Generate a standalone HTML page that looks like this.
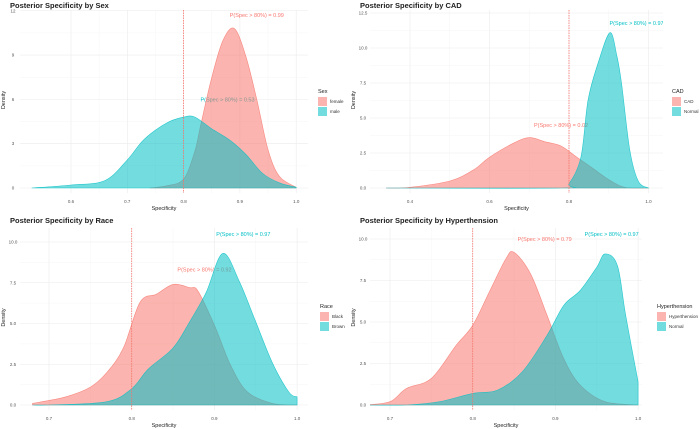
<!DOCTYPE html>
<html><head><meta charset="utf-8"><style>
html,body{margin:0;padding:0;background:#fff;}
svg{display:block;font-family:"Liberation Sans",sans-serif;}
</style></head><body>
<svg id="chart" width="700" height="429" viewBox="0 0 700 429"></svg>
<script>
// ---- Data ----
const sexFemaleX=[0.74,0.77,0.80,0.82,0.83,0.85,0.87,0.89,0.91,0.93,0.95,0.97,1.0];
const sexFemaleY=[0,0.15,0.6,2.5,4.2,7.5,10.0,10.8,9.0,6.0,2.6,0.8,0.05];
const sexMaleX=[0.53,0.60,0.66,0.70,0.73,0.77,0.80,0.82,0.85,0.88,0.91,0.94,0.97,1.0];
const sexMaleY=[0,0.2,0.5,1.9,3.3,4.4,4.8,4.8,4.0,3.3,2.3,1.0,0.35,0.05];
const cadCadX=[0.34,0.40,0.50,0.56,0.60,0.66,0.70,0.74,0.78,0.82,0.86,0.90,0.94,1.0];
const cadCadY=[0,0.05,0.5,1.3,2.2,3.2,3.6,3.3,3.0,2.2,1.4,0.6,0.05,0];
const cadNormalX=[0.34,0.78,0.80,0.83,0.848,0.874,0.903,0.92,0.932,0.953,0.974,1.0];
const cadNormalY=[0,0,0.3,2.2,6.3,9.0,11.1,9.5,7.5,2.7,0.5,0];
const raceBlackX=[0.68,0.72,0.75,0.77,0.79,0.81,0.83,0.85,0.87,0.88,0.90,0.92,0.94,0.97,1.0];
const raceBlackY=[0.1,0.5,1.1,2.0,3.5,6.3,6.8,7.4,7.2,7.0,4.9,2.4,0.8,0.1,0];
const raceBrownX=[0.68,0.70,0.77,0.80,0.82,0.85,0.87,0.89,0.91,0.93,0.95,0.97,0.99,1.0];
const raceBrownY=[0,0,0.2,1.0,2.2,3.5,5.1,6.9,9.3,7.6,5.1,2.6,0.8,0.5];
const htnHyperX=[0.67,0.70,0.72,0.75,0.78,0.80,0.82,0.84,0.85,0.87,0.89,0.91,0.93,0.96,1.0];
const htnHyperY=[0,0.2,1.0,1.6,3.6,4.8,6.8,8.8,9.2,7.9,5.4,2.8,1.2,0.2,0];
const htnNormalX=[0.67,0.72,0.76,0.80,0.83,0.86,0.89,0.91,0.93,0.95,0.96,0.975,0.985,1.0];
const htnNormalY=[0,0,0.2,0.7,0.9,2.0,4.2,6.0,6.9,8.3,9.1,8.4,5.4,1.4];
const sexTicksX=[0.6,0.7,0.8,0.9,1.0];
const sexTicksY=[0,3,6,9,12];
const cadTicksX=[0.4,0.6,0.8,1.0];
const cadTicksY=[0,2.5,5,7.5,10,12.5];
const raceTicksX=[0.7,0.8,0.9,1.0];
const raceTicksY=[0,2.5,5,7.5,10];
const htnTicksX=[0.7,0.8,0.9,1.0];
const htnTicksY=[0,2.5,5,7.5,10];

const PINK='#F8766D', TEAL='#00BFC4';
const svg=document.getElementById('chart');
const NS='http://www.w3.org/2000/svg';
function mk(tag,attrs,parent){const e=document.createElementNS(NS,tag);for(const k in attrs)e.setAttribute(k,attrs[k]);(parent||svg).appendChild(e);return e;}
function fmt(v,dec){return v.toFixed(dec);}

const panels=[
 {id:'sex',title:'Posterior Specificity by Sex',ox:0,oy:0,x0:0.6,px0:71,pxPer:563,y0:188,pyPer:14.77,
  left:20,right:308,top:4,tx:sexTicksX,ty:sexTicksY,txd:1,tyd:0,
  series:[{n:'female',x:sexFemaleX,y:sexFemaleY,c:PINK},{n:'male',x:sexMaleX,y:sexMaleY,c:TEAL}],
  ann:[{t:'P(Spec > 80%) = 0.99',x:0.93,y:11.7,c:PINK},{t:'P(Spec > 80%) = 0.53',x:0.878,y:6.0,c:TEAL}],
  leg:'Sex',lx:318,labels:['female','male']},
 {id:'cad',title:'Posterior Specificity by CAD',ox:350,oy:0,x0:0.4,px0:410,pxPer:397.5,y0:188,pyPer:14.0,
  left:370,right:663,top:4,tx:cadTicksX,ty:cadTicksY,txd:1,tyd:1,
  series:[{n:'cad',x:cadCadX,y:cadCadY,c:PINK},{n:'normal',x:cadNormalX,y:cadNormalY,c:TEAL}],
  ann:[{t:'P(Spec > 80%) = 0.02',x:0.78,y:4.5,c:PINK},{t:'P(Spec > 80%) = 0.97',x:0.97,y:11.8,c:TEAL}],
  leg:'CAD',lx:672,labels:['CAD','Normal']},
 {id:'race',title:'Posterior Specificity by Race',ox:0,oy:215,x0:0.7,px0:49,pxPer:827,y0:405,pyPer:16.3,
  left:20,right:308,top:222,tx:raceTicksX,ty:raceTicksY,txd:1,tyd:1,
  series:[{n:'black',x:raceBlackX,y:raceBlackY,c:PINK},{n:'brown',x:raceBrownX,y:raceBrownY,c:TEAL}],
  ann:[{t:'P(Spec > 80%) = 0.92',x:0.888,y:8.3,c:PINK},{t:'P(Spec > 80%) = 0.97',x:0.935,y:10.5,c:TEAL}],
  leg:'Race',lx:320,labels:['Black','Brown']},
 {id:'hypertension',title:'Posterior Specificity by Hyperthension',ox:350,oy:215,x0:0.7,px0:390,pxPer:827,y0:405,pyPer:16.6,
  left:370,right:642,top:222,tx:htnTicksX,ty:htnTicksY,txd:1,tyd:1,
  series:[{n:'hyperthension',x:htnHyperX,y:htnHyperY,c:PINK},{n:'normal',x:htnNormalX,y:htnNormalY,c:TEAL}],
  ann:[{t:'P(Spec > 80%) = 0.79',x:0.887,y:10.0,c:PINK},{t:'P(Spec > 80%) = 0.97',x:0.968,y:10.3,c:TEAL}],
  leg:'Hyperthension',lx:657,labels:['Hyperthension','Normal']}
];

function smoothPath(pts){
  let d='M'+pts[0][0]+','+pts[0][1];
  for(let i=0;i<pts.length-1;i++){
    const p0=pts[i-1]||pts[i],p1=pts[i],p2=pts[i+1],p3=pts[i+2]||p2;
    const c1x=p1[0]+(p2[0]-p0[0])/6,c1y=p1[1]+(p2[1]-p0[1])/6;
    const c2x=p2[0]-(p3[0]-p1[0])/6,c2y=p2[1]-(p3[1]-p1[1])/6;
    d+=' C'+c1x.toFixed(1)+','+c1y.toFixed(1)+' '+c2x.toFixed(1)+','+c2y.toFixed(1)+' '+p2[0].toFixed(1)+','+p2[1].toFixed(1);
  }
  return d;
}

panels.forEach(p=>{
  const sx=v=>p.px0+(v-p.x0)*p.pxPer;
  const sy=v=>p.y0-v*p.pyPer;
  const g=mk('g',{});
  
  
  const clipId='clip-'+p.id;
  const cp=mk('clipPath',{id:clipId},g);
  mk('rect',{x:p.left,y:p.top,width:p.right-p.left,height:p.y0+6-p.top},cp);
  p.tx.forEach((t,i)=>{
    const gl=mk('line',{x1:sx(t),x2:sx(t),y1:p.top+6,y2:p.y0+5,stroke:'#ebebeb','stroke-width':0.6},g);
    
    if(i<p.tx.length-1){const m=(t+p.tx[i+1])/2;mk('line',{x1:sx(m),x2:sx(m),y1:p.top+6,y2:p.y0+5,stroke:'#f4f4f4','stroke-width':0.4},g);}
    const tl=mk('text',{x:sx(t),y:p.y0+15,'font-size':4.5,fill:'#555','text-anchor':'middle'},g);
    tl.textContent=fmt(t,p.txd);
    
  });
  p.ty.forEach((t,i)=>{
    const gl=mk('line',{x1:p.left,x2:p.right,y1:sy(t),y2:sy(t),stroke:'#ebebeb','stroke-width':0.6},g);
    
    if(i<p.ty.length-1){const m=(t+p.ty[i+1])/2;mk('line',{x1:p.left,x2:p.right,y1:sy(m),y2:sy(m),stroke:'#f4f4f4','stroke-width':0.4},g);}
    const tl=mk('text',{x:p.ox+13,y:sy(t)+1.5,'font-size':4.5,fill:'#555','text-anchor':'middle'},g);
    tl.textContent=fmt(t,p.tyd);
    
  });
  const cg=mk('g',{'clip-path':'url(#'+clipId+')'},g);
  p.ann.forEach(a=>{
    const t=mk('text',{x:sx(a.x),y:sy(a.y)+2,'font-size':5.5,fill:a.c,'text-anchor':'middle'},cg);
    t.textContent=a.t;
    
  });
  p.series.forEach(s=>{
    const pts=s.x.map((x,i)=>[sx(x),Math.min(sy(s.y[i]),p.y0)]);
    let d=smoothPath(pts)+' L'+pts[pts.length-1][0]+','+p.y0+' L'+pts[0][0]+','+p.y0+' Z';
    const path=mk('path',{d:d,fill:s.c,'fill-opacity':0.55,stroke:s.c,'stroke-width':0.6,'stroke-opacity':0.8},cg);
    
  });
  const vl=mk('line',{x1:sx(0.8),x2:sx(0.8),y1:p.top+6,y2:p.y0+5,stroke:'#F8766D','stroke-width':0.8,'stroke-dasharray':'1.5,1'},g);
  
  const ti=mk('text',{x:p.ox+10,y:p.oy+8,'font-size':7.5,'font-weight':'bold',fill:'#222'},g);
  ti.textContent=p.title;
  const xt=mk('text',{x:(p.left+p.right)/2,y:p.y0+22,'font-size':5.5,fill:'#222','text-anchor':'middle'},g);
  xt.textContent='Specificity';
  const ymid=(p.top+p.y0)/2+4;
  const yt=mk('text',{x:p.ox+5,y:ymid,'font-size':5.5,fill:'#222','text-anchor':'middle',transform:'rotate(-90 '+(p.ox+5)+' '+ymid+')'},g);
  yt.textContent='Density';
  const ly=p.oy+93;
  const lt=mk('text',{x:p.lx,y:ly,'font-size':5.5,fill:'#222'},g);
  lt.textContent=p.leg;
  [PINK,TEAL].forEach((c,i)=>{
    const r=mk('rect',{x:p.lx,y:ly+4+i*10,width:9,height:9,fill:c,'fill-opacity':0.55},g);
    
    const lb=mk('text',{x:p.lx+12,y:ly+10+i*10,'font-size':4.5,fill:'#333'},g);
    lb.textContent=p.labels[i];
  });
});
</script>
</body></html>
